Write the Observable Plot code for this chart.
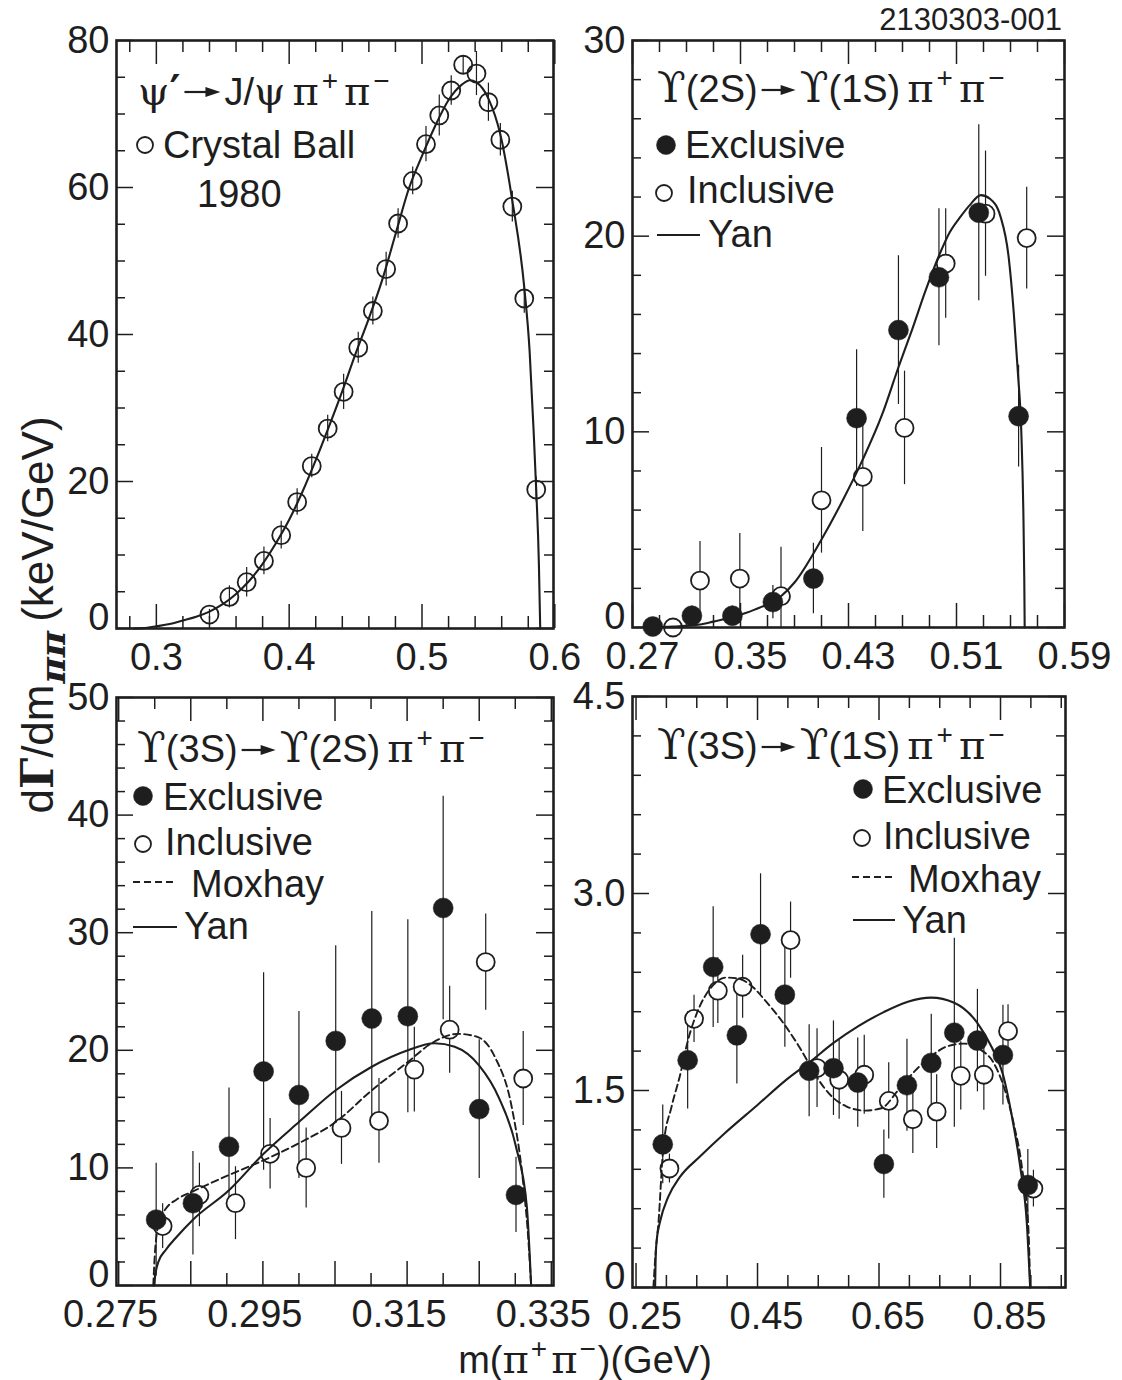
<!DOCTYPE html>
<html><head><meta charset="utf-8">
<script src="https://cdn.jsdelivr.net/npm/d3@7"></script>
<script src="https://cdn.jsdelivr.net/npm/@observablehq/plot@0.6"></script>
<style>
body{margin:0;background:#fff;}
#chart{position:relative;width:1122px;height:1380px;background:#fff;overflow:hidden;}
</style></head><body><div id="chart"></div>
<script>
// ---------- Panel A: psi' -> J/psi pi+ pi- (Crystal Ball 1980) ----------
const psiMass = [0.340,0.355,0.368,0.381,0.394,0.406,0.417,0.429,0.441,0.452,0.463,0.473,0.482,0.493,0.503,0.513,0.522,0.531,0.541,0.550,0.559,0.568,0.577,0.586];
const psiRate = [1.9,4.3,6.3,9.2,12.7,17.2,22.1,27.2,32.2,38.2,43.2,48.9,55.1,60.9,65.9,69.8,73.2,76.7,75.5,71.6,66.5,57.4,44.9,18.9];
const psiErr  = [0.7,1.5,2.0,1.9,1.9,1.8,1.6,1.8,2.4,2.1,1.9,2.3,2.0,1.9,2.4,2.8,2.0,1.2,3.0,2.6,2.2,2.1,2.0,1.7];
const psiCurveMass = [0.283,0.29,0.30,0.31,0.32,0.33,0.34,0.35,0.36,0.37,0.38,0.39,0.40,0.41,0.42,0.43,0.44,0.45,0.46,0.47,0.48,0.49,0.50,0.51,0.52,0.53,0.536,0.541,0.55,0.559,0.568,0.577,0.581,0.584,0.586,0.588,0.589];
const psiCurveRate = [0,0.05,0.3,0.6,1.1,1.6,2.3,3.3,4.7,6.5,8.8,11.6,14.8,18.6,22.9,27.5,32.3,37.4,42.2,47.4,53.6,59.8,64.3,68.4,71.9,74.0,74.6,74.3,72.1,67.2,58.2,46.4,37.8,27.0,18.8,8.8,0];

// ---------- Panel B: Upsilon(2S) -> Upsilon(1S) pi+ pi- ----------
const u21ExclMass = [0.285,0.314,0.344,0.374,0.404,0.436,0.467,0.497,0.5265,0.556];
const u21ExclRate = [0.05,0.6,0.6,1.3,2.5,10.7,15.2,17.9,21.2,10.8];
const u21ExclErr  = [0.3,0.5,0.5,0.85,1.8,3.5,3.8,3.5,4.5,2.6];
const u21InclMass = [0.300,0.320,0.3495,0.380,0.410,0.4406,0.4715,0.502,0.5315,0.562];
const u21InclRate = [0.0,2.4,2.5,1.6,6.5,7.7,10.2,18.6,21.15,19.9];
const u21InclErr  = [0.3,2.0,2.3,2.5,2.7,2.8,2.9,2.8,3.2,2.6];
const u21YanMass = [0.280,0.30,0.32,0.33,0.345,0.36,0.38,0.39,0.41,0.425,0.44,0.455,0.467,0.477,0.487,0.497,0.505,0.513,0.52,0.528,0.535,0.5426,0.5485,0.5525,0.5555,0.558,0.5595,0.5602,0.5605];
const u21YanRate = [0,0.05,0.15,0.3,0.55,0.9,1.6,2.3,4.5,6.4,8.5,10.9,13.3,15.2,17.2,19.0,20.2,21.0,21.6,22.1,21.9,21.0,19.0,16.0,13.0,10.0,6.0,2.5,0];

// ---------- Panel C: Upsilon(3S) -> Upsilon(2S) pi+ pi- ----------
const u32ExclMass = [0.2802,0.2853,0.2903,0.2951,0.3000,0.3051,0.3101,0.3151,0.3200,0.3250,0.3301];
const u32ExclRate = [5.6,7.0,11.8,18.2,16.2,20.8,22.7,22.9,32.1,15.0,7.7];
const u32ExclErr  = [4.8,4.4,5.0,8.4,7.1,8.1,9.1,8.2,9.5,5.9,3.2];
const u32InclMass = [0.2811,0.2862,0.2912,0.2960,0.3010,0.3059,0.3111,0.3160,0.3209,0.3259,0.3311];
const u32InclRate = [5.05,7.7,7.0,11.2,10.0,13.4,14.0,18.35,21.75,27.5,17.6];
const u32InclErr  = [1.9,2.7,3.1,3.0,3.4,3.1,3.6,3.6,3.7,4.1,4.0];
const u32YanMass = [0.2799,0.2801,0.2805,0.2815,0.283,0.2853,0.2903,0.2951,0.300,0.3051,0.3101,0.3151,0.3188,0.3216,0.325,0.3277,0.3301,0.3316,0.3322];
const u32YanRate = [0,1.0,2.0,3.0,4.1,5.6,8.1,11.2,13.9,16.6,18.6,20.0,20.6,20.3,18.7,16.0,11.8,6.7,0];
const u32MoxMass = [0.2798,0.2800,0.2803,0.2808,0.2815,0.283,0.2853,0.2903,0.2951,0.300,0.3051,0.3101,0.3151,0.3184,0.3221,0.3249,0.3272,0.3295,0.3311,0.3318,0.3322];
const u32MoxRate = [0,2.5,4.5,5.7,6.5,7.3,8.0,9.4,10.65,12.1,13.9,16.6,19.0,20.6,21.4,21.1,19.4,15.2,8.7,4.0,0];

// ---------- Panel D: Upsilon(3S) -> Upsilon(1S) pi+ pi- ----------
const u31ExclMass = [0.294,0.335,0.377,0.416,0.455,0.495,0.535,0.575,0.615,0.658,0.696,0.736,0.774,0.812,0.854,0.895];
const u31ExclRate = [1.09,1.73,2.44,1.92,2.69,2.23,1.65,1.67,1.56,0.94,1.54,1.71,1.94,1.88,1.77,0.78];
const u31ExclErr  = [0.30,0.37,0.46,0.37,0.46,0.40,0.35,0.36,0.34,0.26,0.35,0.37,0.72,0.39,0.38,0.27];
const u31InclMass = [0.305,0.3455,0.3847,0.4255,0.5044,0.548,0.5844,0.6257,0.666,0.7057,0.7449,0.7846,0.8226,0.8624,0.9042];
const u31InclRate = [0.906,2.046,2.26,2.29,2.645,1.671,1.582,1.62,1.421,1.281,1.339,1.612,1.62,1.952,0.753];
const u31InclErr  = [0.11,0.18,0.25,0.24,0.29,0.30,0.30,0.30,0.29,0.26,0.28,0.26,0.27,0.20,0.14];
const u31YanMass = [0.2814,0.2822,0.284,0.2895,0.303,0.322,0.3548,0.3956,0.45,0.4962,0.5354,0.5751,0.616,0.6578,0.6975,0.7356,0.7737,0.8118,0.8362,0.8542,0.8689,0.8825,0.8934,0.8988];
const u31YanRate = [0,0.2,0.36,0.5,0.69,0.84,0.995,1.173,1.39,1.577,1.714,1.862,1.99,2.097,2.176,2.207,2.168,2.015,1.824,1.62,1.30,0.918,0.485,0];
const u31MoxMass = [0.2786,0.282,0.2868,0.295,0.3086,0.322,0.3358,0.3494,0.3766,0.3983,0.4201,0.4418,0.4636,0.4962,0.518,0.5343,0.5507,0.5724,0.5969,0.6268,0.654,0.6812,0.7084,0.7356,0.7628,0.79,0.8172,0.8389,0.8553,0.8716,0.8852,0.8961,0.8988];
const u31MoxRate = [0,0.25,0.485,1.07,1.378,1.607,1.888,2.08,2.30,2.36,2.35,2.29,2.18,1.99,1.837,1.709,1.58,1.454,1.378,1.347,1.365,1.50,1.645,1.76,1.837,1.857,1.811,1.709,1.531,1.25,0.918,0.434,0];

// ---------- Axis ticks and labels ----------
const psiXTicks = [0.3,0.4,0.5,0.6];
const psiXLabels = ["0.3","0.4","0.5","0.6"];
const psiXMinor = [0.28,0.32,0.34,0.36,0.38,0.42,0.44,0.46,0.48,0.52,0.54,0.56,0.58];
const psiYTicks = [0,20,40,60,80];
const psiYLabels = ["0","20","40","60","80"];
const psiYMinor = [5,10,15,25,30,35,45,50,55,65,70,75];

const u21XTicks = [0.27,0.35,0.43,0.51,0.59];
const u21XLabels = ["0.27","0.35","0.43","0.51","0.59"];
const u21XMinor = [0.29,0.31,0.33,0.37,0.39,0.41,0.45,0.47,0.49,0.53,0.55,0.57];
const u21YTicks = [0,10,20,30];
const u21YLabels = ["0","10","20","30"];
const u21YMinor = [2,4,6,8,12,14,16,18,22,24,26,28];

const u32XTicks = [0.275,0.295,0.315,0.335];
const u32XLabels = ["0.275","0.295","0.315","0.335"];
const u32XLong = [0.285,0.305,0.325];
const u32XMinor = [0.28,0.29,0.30,0.31,0.32,0.33];
const u32YTicks = [0,10,20,30,40,50];
const u32YLabels = ["0","10","20","30","40","50"];
const u32YMinor = [2,4,6,8,12,14,16,18,22,24,26,28,32,34,36,38,42,44,46,48];

const u31XTicks = [0.25,0.45,0.65,0.85];
const u31XLabels = ["0.25","0.45","0.65","0.85"];
const u31XMinor = [0.30,0.35,0.40,0.50,0.55,0.60,0.70,0.75,0.80,0.90,0.95];
const u31YTicks = [0,1.5,3.0,4.5];
const u31YLabels = ["0","1.5","3.0","4.5"];
const u31YMinor = [0.3,0.6,0.9,1.2,1.8,2.1,2.4,2.7,3.3,3.6,3.9,4.2];

// ---------- helpers ----------
const INK = "#1e1e1e";
const SANS = "'Liberation Sans', Arial, Helvetica, sans-serif";
const SERIF = "'DejaVu Serif', 'Liberation Serif', serif";
const chart = document.getElementById("chart");
const rows = (xs, ys, es) => xs.map((x, i) => ({x, y: ys[i], e: es ? es[i] : 0}));

function panel(cfg) {
  const [L, R, T, B] = cfg.frame;
  const mL = 110, mR = 40, mT = 30, mB = 75;
  const W = R - L, H = B - T;
  const [y0, y1] = cfg.yDomain;
  const xFmt = new Map(cfg.xTicks.map((d, i) => [d, cfg.xLabels[i]]));
  const yFmt = new Map(cfg.yTicks.map((d, i) => [d, cfg.yLabels[i]]));
  const xLong = cfg.xTicks.concat(cfg.xLong || []);
  const tk = {stroke: INK, strokeWidth: 1.5};
  const errBars = (data) => Plot.ruleX(data, {x: "x", y1: d => Math.max(y0, d.y - d.e), y2: d => Math.min(y1, d.y + d.e), stroke: INK, strokeWidth: 1.2});
  const marks = [
    ...cfg.layers(errBars),
    Plot.ruleX(xLong, {x: d => d, insetTop: H - 24, ...tk}),
    Plot.ruleX(xLong, {x: d => d, insetBottom: H - 24, ...tk}),
    Plot.ruleX(cfg.xMinor, {x: d => d, insetTop: H - 12, ...tk}),
    Plot.ruleX(cfg.xMinor, {x: d => d, insetBottom: H - 12, ...tk}),
    Plot.ruleY(cfg.yTicks, {y: d => d, insetRight: W - 17, ...tk}),
    Plot.ruleY(cfg.yTicks, {y: d => d, insetLeft: W - 17, ...tk}),
    Plot.ruleY(cfg.yMinor, {y: d => d, insetRight: W - 9, ...tk}),
    Plot.ruleY(cfg.yMinor, {y: d => d, insetLeft: W - 9, ...tk}),
    Plot.frame({stroke: INK, strokeWidth: 2.6}),
    Plot.axisX(cfg.xTicks, {tickSize: 0, tickPadding: 15, tickFormat: d => xFmt.get(d), fontSize: 38, dx: cfg.xDx || 0, fill: INK, label: null}),
    Plot.axisY(cfg.yTicks.filter(d => d !== 0), {tickSize: 0, tickPadding: 7, tickFormat: d => yFmt.get(d), fontSize: 38, fill: INK, label: null}),
    Plot.axisY([0], {tickSize: 0, tickPadding: 7, tickFormat: () => "0", fontSize: 38, dy: -11, fill: INK, label: null})
  ];
  const svg = Plot.plot({
    width: W + mL + mR, height: H + mT + mB,
    marginLeft: mL, marginRight: mR, marginTop: mT, marginBottom: mB,
    x: {domain: cfg.xDomain, axis: null, label: null},
    y: {domain: cfg.yDomain, axis: null, label: null},
    style: {background: "transparent", overflow: "visible", fontFamily: SANS, fontSize: "38px", color: INK},
    marks
  });
  svg.style.position = "absolute";
  svg.style.left = (L - mL) + "px";
  svg.style.top = (T - mT) + "px";
  svg.style.maxWidth = "none";
  chart.appendChild(svg);
}

const openDot = (data, fill = "white") => Plot.dot(data, {x: "x", y: "y", r: 9, stroke: INK, strokeWidth: 1.8, fill});
const fullDot = (data) => Plot.dot(data, {x: "x", y: "y", r: 10, fill: INK, stroke: INK, strokeWidth: 0.5});
const solid = (data) => Plot.line(data, {x: "x", y: "y", curve: "monotone-x", stroke: INK, strokeWidth: 2.1});
const dashed = (data) => Plot.line(data, {x: "x", y: "y", curve: "monotone-x", stroke: INK, strokeWidth: 1.9, strokeDasharray: "7,4"});

// Panel A
panel({
  frame: [116, 553, 40, 628], xDomain: [0.270, 0.599], yDomain: [0, 80],
  xTicks: psiXTicks, xLabels: psiXLabels, xMinor: psiXMinor,
  yTicks: psiYTicks, yLabels: psiYLabels, yMinor: psiYMinor,
  layers: (err) => {
    const d = rows(psiMass, psiRate, psiErr);
    return [solid(rows(psiCurveMass, psiCurveRate)), err(d), openDot(d, "none")];
  }
});
// Panel B
panel({
  frame: [632, 1064, 40, 627], xDomain: [0.27, 0.59], yDomain: [0, 30], xDx: 10,
  xTicks: u21XTicks, xLabels: u21XLabels, xMinor: u21XMinor,
  yTicks: u21YTicks, yLabels: u21YLabels, yMinor: u21YMinor,
  layers: (err) => {
    const ex = rows(u21ExclMass, u21ExclRate, u21ExclErr), inc = rows(u21InclMass, u21InclRate, u21InclErr);
    return [err(ex), err(inc), openDot(inc), solid(rows(u21YanMass, u21YanRate)), fullDot(ex)];
  }
});
// Panel C
panel({
  frame: [116, 553, 697, 1285], xDomain: [0.2747, 0.3353], yDomain: [0, 50], xDx: -8,
  xTicks: u32XTicks, xLabels: u32XLabels, xLong: u32XLong, xMinor: u32XMinor,
  yTicks: u32YTicks, yLabels: u32YLabels, yMinor: u32YMinor,
  layers: (err) => {
    const ex = rows(u32ExclMass, u32ExclRate, u32ExclErr), inc = rows(u32InclMass, u32InclRate, u32InclErr);
    return [err(ex), err(inc), openDot(inc), dashed(rows(u32MoxMass, u32MoxRate)), solid(rows(u32YanMass, u32YanRate)), fullDot(ex)];
  }
});
// Panel D
panel({
  frame: [632, 1065, 696, 1287], xDomain: [0.2442, 0.957], yDomain: [0, 4.5], xDx: 9,
  xTicks: u31XTicks, xLabels: u31XLabels, xMinor: u31XMinor,
  yTicks: u31YTicks, yLabels: u31YLabels, yMinor: u31YMinor,
  layers: (err) => {
    const ex = rows(u31ExclMass, u31ExclRate, u31ExclErr), inc = rows(u31InclMass, u31InclRate, u31InclErr);
    return [err(ex), err(inc), openDot(inc), dashed(rows(u31MoxMass, u31MoxRate)), solid(rows(u31YanMass, u31YanRate)), fullDot(ex)];
  }
});

// ---------- annotation overlay (titles, legends, axis titles) ----------
const ov = d3.select("#chart").append("svg")
  .attr("width", 1122).attr("height", 1380)
  .style("position", "absolute").style("left", "0px").style("top", "0px").style("overflow", "visible");

function rich(parent, parts, base = 38) {
  let cx = 0;
  for (const p of parts) {
    if (p.arrow) {
      const pad = p.pad ?? 4, x0 = cx + pad, len = p.arrow, yy = -(p.lift ?? 12);
      parent.append("line").attr("x1", x0).attr("x2", x0 + len - 8).attr("y1", yy).attr("y2", yy)
        .attr("stroke", INK).attr("stroke-width", 2.2);
      parent.append("path").attr("d", `M${x0 + len},${yy} L${x0 + len - 15},${yy - 5} L${x0 + len - 15},${yy + 5} Z`).attr("fill", INK);
      cx = x0 + len + pad;
      continue;
    }
    const t = parent.append("text").attr("x", cx + (p.dx || 0)).attr("y", -(p.up || 0))
      .attr("font-family", p.font || (p.serif ? SERIF : SANS)).attr("font-size", p.size || base).attr("fill", INK).text(p.t);
    if (p.bold) t.attr("font-weight", "bold");
    if (p.italic) t.attr("font-style", "italic");
    cx += (p.dx || 0) + t.node().getComputedTextLength() + (p.gap || 0);
  }
  return cx;
}
function at(x, y, parts, base) {
  const g = ov.append("g").attr("transform", `translate(${x},${y})`);
  return {g, w: rich(g, parts, base)};
}
const UPS = {t: "ϒ", serif: true, size: 42};
const pipi = [
  {t: "π", serif: true, size: 40, gap: 3}, {t: "+", size: 28, up: 15, gap: 6},
  {t: "π", serif: true, size: 40, gap: 3}, {t: "−", size: 28, up: 15}
];

// titles
at(138, 105, [{t: "ψ", serif: true, size: 40}, {t: "′", font: "'DejaVu Sans', sans-serif", bold: true, size: 42, gap: 0}, {arrow: 36, lift: 13}, {t: "J/"}, {t: "ψ", serif: true, size: 40, gap: 7}, ...pipi]);
at(657, 102, [UPS, {t: "(2S)"}, {arrow: 34}, UPS, {t: "(1S)", gap: 7}, ...pipi]);
at(137, 762, [UPS, {t: "(3S)"}, {arrow: 34}, UPS, {t: "(2S)", gap: 7}, ...pipi]);
at(657, 759, [UPS, {t: "(3S)"}, {arrow: 34}, UPS, {t: "(1S)", gap: 7}, ...pipi]);

// legends
function legDot(cx, cy, filled) {
  ov.append("circle").attr("cx", cx).attr("cy", cy).attr("r", filled ? 9.5 : 8)
    .attr("fill", filled ? INK : "white").attr("stroke", INK).attr("stroke-width", filled ? 0.5 : 1.8);
}
function legLine(x1, x2, y, dash) {
  const l = ov.append("line").attr("x1", x1).attr("x2", x2).attr("y1", y).attr("y2", y).attr("stroke", INK).attr("stroke-width", dash ? 1.9 : 2.1);
  if (dash) l.attr("stroke-dasharray", "7,4");
}
function label(x, y, s) { at(x, y, [{t: s}]); }

// Panel A legend
legDot(145, 145, false); label(163, 158, "Crystal Ball"); label(197, 207, "1980");
// Panel B legend
legDot(666, 145, true); label(685, 158, "Exclusive");
legDot(664, 193, false); label(687, 203, "Inclusive");
legLine(657, 700, 235, false); label(708, 247, "Yan");
// Panel C legend
legDot(143, 796, true); label(163, 810, "Exclusive");
legDot(143, 844, false); label(165, 855, "Inclusive");
legLine(133, 175, 882, true); label(191, 897, "Moxhay");
legLine(133, 177, 927, false); label(184, 939, "Yan");
// Panel D legend
legDot(863, 789, true); label(882, 803, "Exclusive");
legDot(862, 838, false); label(883, 849, "Inclusive");
legLine(852, 893, 877, true); label(908, 892, "Moxhay");
legLine(853, 895, 920, false); label(902, 933, "Yan");

// figure id
ov.append("text").attr("x", 1062).attr("y", 30).attr("text-anchor", "end").attr("font-family", SANS)
  .attr("font-size", 31).attr("fill", INK).text("2130303-001");

// x axis title
{
  const {g, w} = at(0, 0, [{t: "m("}, {t: "π", serif: true, size: 40, gap: 2}, {t: "+", size: 28, up: 15, gap: 4},
    {t: "π", serif: true, size: 40, gap: 2}, {t: "−", size: 28, up: 15, gap: 2}, {t: ")(GeV)"}], 38);
  g.attr("transform", `translate(${585 - w / 2},1373)`);
}
// y axis title (rotated)
{
  const {g, w} = at(0, 0, [{t: "d"}, {t: "Γ", serif: true, bold: true, size: 44}, {t: "/dm", gap: 1},
    {t: "ππ", serif: true, bold: true, italic: true, size: 36, up: -12, gap: 9}, {t: "(keV/GeV)"}], 44);
  g.attr("transform", `translate(53,${615 + w / 2}) rotate(-90)`);
}
</script></body></html>
